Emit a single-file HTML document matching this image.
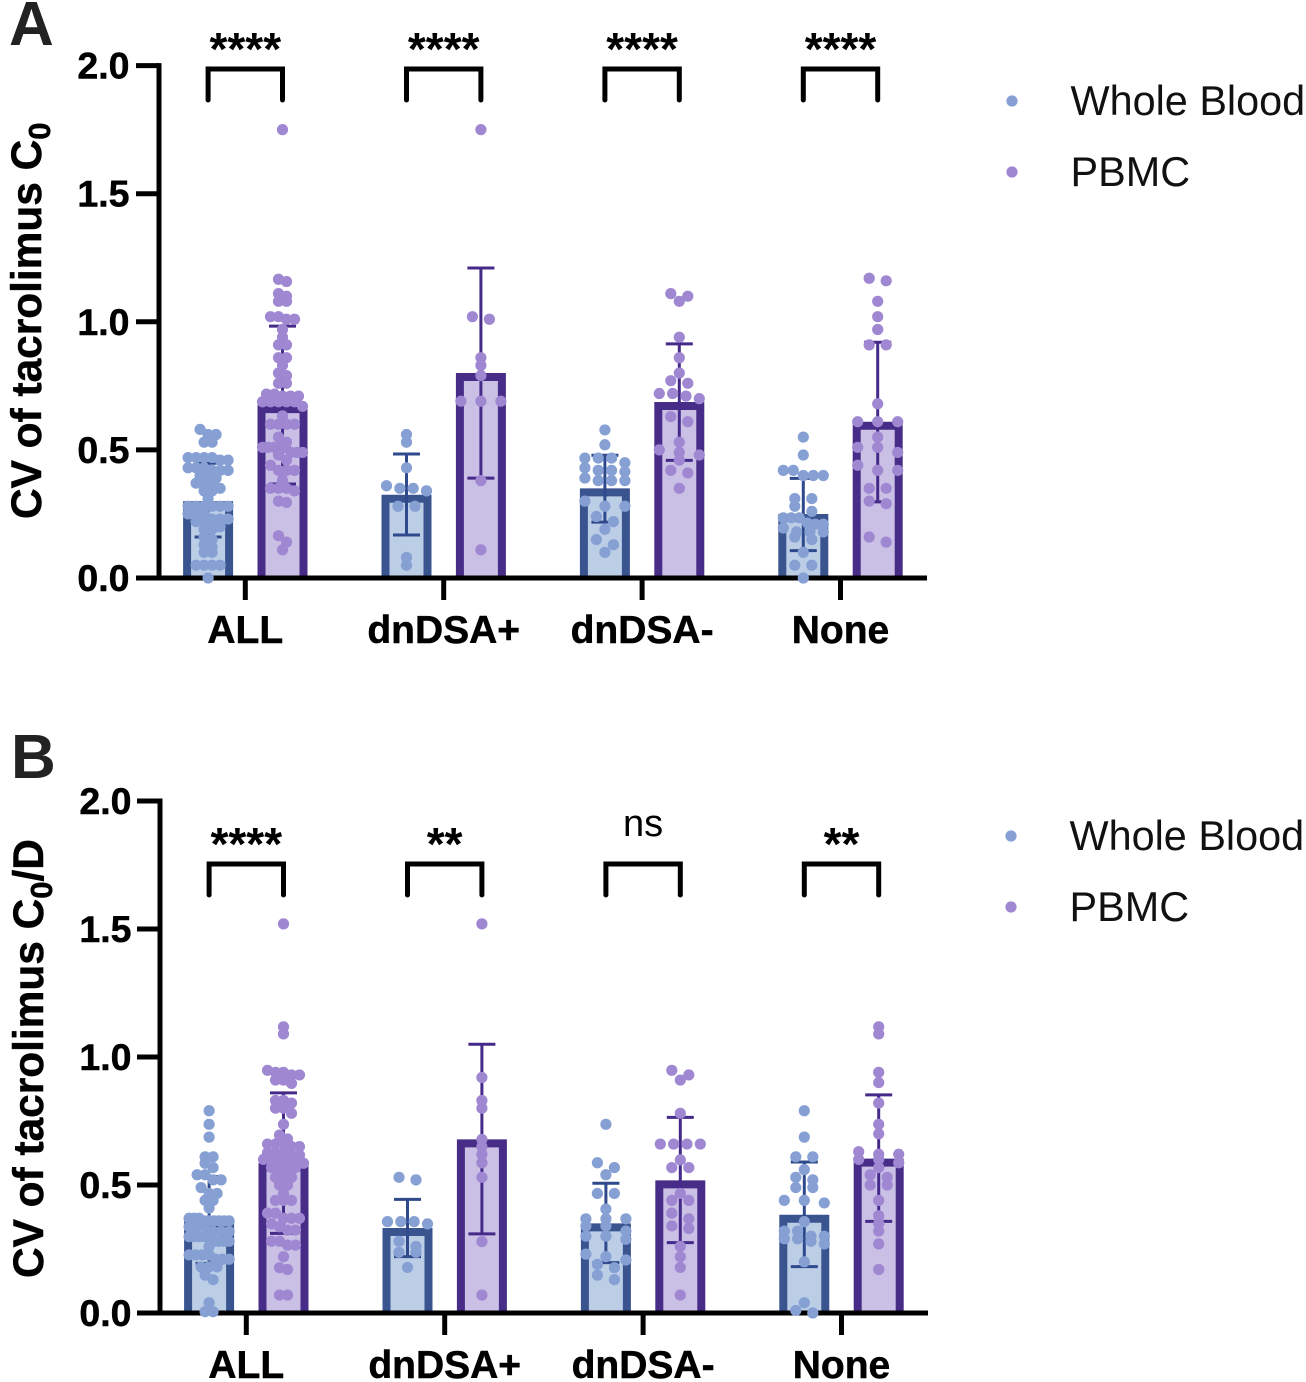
<!DOCTYPE html>
<html lang="en">
<head>
<meta charset="utf-8">
<title>CV of tacrolimus in Whole Blood and PBMC</title>
<style>
html,body{margin:0;padding:0;background:#fff;width:1306px;height:1382px;overflow:hidden}
svg{display:block;font-family:"Liberation Sans",Arial,sans-serif}
</style>
</head>
<body>
<svg id="figure" width="1306" height="1382" viewBox="0 0 1306 1382" xmlns="http://www.w3.org/2000/svg">
<rect width="1306" height="1382" fill="#fff"/>
</svg>
<script>
// ---------- shared labels ----------
const categories = ["ALL", "dnDSA+", "dnDSA-", "None"];
const seriesNames = ["Whole Blood", "PBMC"];
const yTickValues = [0, 0.5, 1, 1.5, 2];
const yTickLabels = ["0.0", "0.5", "1.0", "1.5", "2.0"];

// ---------- panel A ----------
const sigA = ["****", "****", "****", "****"];
const meanWholeBloodA = [0.30, 0.325, 0.35, 0.25];
const meanPbmcA = [0.675, 0.80, 0.687, 0.61];
const errLowWholeBloodA = [0.16, 0.168, 0.218, 0.107];
const errHighWholeBloodA = [0.448, 0.484, 0.479, 0.389];
const errLowPbmcA = [0.367, 0.39, 0.459, 0.297];
const errHighPbmcA = [0.983, 1.21, 0.914, 0.92];
const pointsWholeBloodA = [
  [0.58,0.56,0.56,0.53,0.53,0.47,0.47,0.47,0.47,0.46,0.46,0.43,0.43,0.43,0.42,0.42,0.42,0.40,0.39,0.39,0.37,0.37,0.36,0.35,0.34,0.34,0.31,0.28,0.28,0.28,0.28,0.28,0.28,0.25,0.25,0.25,0.23,0.23,0.23,0.22,0.22,0.20,0.20,0.19,0.19,0.16,0.15,0.13,0.12,0.10,0.10,0.05,0.05,0.05,0.05,0.0],
  [0.56,0.53,0.43,0.36,0.35,0.35,0.34,0.28,0.28,0.08,0.05],
  [0.578,0.52,0.468,0.468,0.468,0.45,0.43,0.42,0.42,0.415,0.39,0.38,0.38,0.38,0.30,0.28,0.28,0.24,0.22,0.19,0.15,0.13,0.10],
  [0.55,0.48,0.42,0.42,0.40,0.40,0.40,0.31,0.31,0.28,0.26,0.235,0.235,0.235,0.215,0.21,0.21,0.195,0.18,0.18,0.18,0.16,0.15,0.10,0.05,0.05,0.0]
];
const pointsPbmcA = [
  [1.75,1.166,1.157,1.11,1.10,1.08,1.08,1.02,1.02,1.01,1.01,0.97,0.94,0.91,0.91,0.86,0.86,0.83,0.80,0.79,0.76,0.76,0.718,0.718,0.71,0.71,0.71,0.688,0.688,0.688,0.688,0.688,0.67,0.633,0.60,0.60,0.60,0.60,0.55,0.53,0.51,0.51,0.51,0.51,0.51,0.49,0.49,0.49,0.48,0.46,0.44,0.42,0.42,0.42,0.41,0.38,0.35,0.35,0.35,0.34,0.30,0.295,0.165,0.14,0.11],
  [1.75,1.02,1.01,0.86,0.83,0.79,0.69,0.69,0.69,0.38,0.11],
  [1.11,1.10,1.08,0.94,0.86,0.80,0.77,0.76,0.72,0.72,0.71,0.70,0.63,0.61,0.53,0.50,0.49,0.48,0.46,0.42,0.41,0.35],
  [1.17,1.16,1.08,1.02,0.97,0.91,0.91,0.68,0.61,0.61,0.61,0.55,0.51,0.51,0.49,0.44,0.42,0.42,0.35,0.35,0.30,0.29,0.16,0.14]
];

// ---------- panel B ----------
const sigB = ["****", "**", "ns", "**"];
const meanWholeBloodB = [0.36, 0.332, 0.35, 0.384];
const meanPbmcB = [0.585, 0.678, 0.518, 0.603];
const errLowWholeBloodB = [0.194, 0.22, 0.197, 0.181];
const errHighWholeBloodB = [0.533, 0.444, 0.507, 0.59];
const errLowPbmcB = [0.311, 0.309, 0.275, 0.358];
const errHighPbmcB = [0.86, 1.05, 0.764, 0.852];
const pointsWholeBloodB = [
  [0.79,0.737,0.687,0.61,0.61,0.585,0.568,0.54,0.54,0.52,0.52,0.49,0.467,0.467,0.44,0.44,0.41,0.37,0.37,0.37,0.36,0.36,0.36,0.36,0.36,0.36,0.337,0.337,0.337,0.318,0.318,0.318,0.298,0.298,0.298,0.298,0.298,0.28,0.28,0.28,0.28,0.26,0.227,0.227,0.227,0.227,0.21,0.21,0.21,0.18,0.18,0.18,0.148,0.13,0.04,0.005,0.005],
  [0.53,0.52,0.357,0.357,0.357,0.348,0.28,0.26,0.237,0.237,0.178],
  [0.737,0.587,0.568,0.54,0.467,0.467,0.406,0.368,0.368,0.368,0.34,0.34,0.32,0.30,0.30,0.288,0.23,0.22,0.207,0.19,0.177,0.148,0.13],
  [0.79,0.687,0.61,0.61,0.56,0.53,0.52,0.49,0.49,0.44,0.44,0.43,0.357,0.32,0.32,0.30,0.30,0.29,0.29,0.28,0.27,0.20,0.04,0.01,0.0]
];
const pointsPbmcB = [
  [1.52,1.118,1.09,0.948,0.94,0.94,0.93,0.93,0.91,0.91,0.897,0.83,0.83,0.82,0.80,0.80,0.78,0.737,0.695,0.68,0.66,0.66,0.66,0.65,0.65,0.626,0.626,0.626,0.617,0.617,0.60,0.60,0.60,0.60,0.585,0.585,0.585,0.568,0.568,0.568,0.568,0.53,0.53,0.53,0.50,0.50,0.467,0.44,0.44,0.44,0.39,0.39,0.37,0.37,0.37,0.348,0.337,0.324,0.324,0.28,0.28,0.265,0.265,0.22,0.177,0.17,0.07,0.07],
  [1.52,0.92,0.83,0.80,0.678,0.65,0.62,0.587,0.53,0.279,0.07],
  [0.948,0.93,0.91,0.78,0.66,0.66,0.66,0.66,0.598,0.568,0.568,0.467,0.44,0.44,0.39,0.368,0.34,0.33,0.26,0.22,0.178,0.07],
  [1.118,1.09,0.94,0.90,0.82,0.737,0.70,0.63,0.62,0.62,0.60,0.60,0.587,0.568,0.54,0.53,0.50,0.50,0.44,0.38,0.35,0.32,0.27,0.17]
];

// ---------- drawing ----------
const svg = document.getElementById('figure');
const NS = 'http://www.w3.org/2000/svg';
function make(tag, attrs, parent) {
  const el = document.createElementNS(NS, tag);
  for (const k in attrs) el.setAttribute(k, attrs[k]);
  parent.appendChild(el);
  return el;
}
function swarmOffsets(vals) {
  const dense = vals.length > 40;
  const order = vals.map((v, i) => i).sort((a, b) => vals[b] - vals[a]);
  const off = new Array(vals.length).fill(0);
  let row = [];
  const flush = () => {
    const n = row.length;
    if (n > 1) {
      const sparseStep = n === 2 ? 17 : 40 / (n - 1);
      const step = dense ? Math.min(8, 40 / (n - 1)) : sparseStep;
      row.forEach((idx, j) => { off[idx] = (j - (n - 1) / 2) * step; });
    }
    row = [];
  };
  order.forEach(idx => {
    if (row.length && vals[row[0]] - vals[idx] > 0.025) flush();
    row.push(idx);
  });
  flush();
  return off;
}
const seriesStyle = [
  {stroke: '#3a5490', fill: '#bccde6', err: '#2f4a8c', dot: '#86a0d4'},
  {stroke: '#482d88', fill: '#cabfe5', err: '#452a8a', dot: '#9f87d2'}
];

function drawPanel(cfg) {
  const g = make('g', {}, svg);
  
  
  const yScale = v => cfg.y0 - v * cfg.pxPerUnit;
  const xScale = i => cfg.x0 + i * 198.4;
  const seriesX = (i, s) => xScale(i) + (s === 0 ? -37.2 : 37.2);

  const letter = make('text', {x: cfg.letterX, y: cfg.letterY, 'font-size': 62, 'font-weight': 700, fill: '#222'}, g);
  letter.textContent = cfg.id;
  
  

  const title = make('text', {transform: 'translate(' + cfg.titleX + ',' + cfg.titleY + ') rotate(-90)', 'font-size': 42.4, 'font-weight': 700, fill: '#000', stroke: '#000', 'stroke-width': 0.5}, g);
  
  
  const t1 = make('tspan', {}, title); t1.textContent = 'CV of tacrolimus C';
  const t2 = make('tspan', {dy: 9, 'font-size': 31}, title); t2.textContent = '0';
  if (cfg.titleSuffix) {
    const t3 = make('tspan', {dy: -9}, title);
    t3.textContent = cfg.titleSuffix;
  }

  // bars, error bars, points
  [0, 1].forEach(s => {
    const st = seriesStyle[s];
    categories.forEach((cat, i) => {
      const cx = seriesX(i, s);
      const top = yScale(cfg.means[s][i]);
      const bar = make('g', {}, g);
      
      
      make('rect', {x: cx - 21, y: top + 4, width: 42, height: cfg.y0 - top - 4, fill: st.fill}, bar);
      make('path', {d: 'M' + (cx - 21) + ' ' + cfg.y0 + 'V' + (top + 4) + 'H' + (cx + 21) + 'V' + cfg.y0, fill: 'none', stroke: st.stroke, 'stroke-width': 8}, bar);

      const err = make('g', {stroke: st.err, 'stroke-width': 3, fill: 'none'}, g);
      
      
      const yl = yScale(cfg.errLow[s][i]), yh = yScale(cfg.errHigh[s][i]);
      make('line', {x1: cx, x2: cx, y1: yl, y2: yh}, err);
      make('line', {x1: cx - 13.5, x2: cx + 13.5, y1: yl, y2: yl}, err);
      make('line', {x1: cx - 13.5, x2: cx + 13.5, y1: yh, y2: yh}, err);
    });
  });

  // axes
  const axes = make('g', {stroke: '#000', 'stroke-width': 5, fill: 'none'}, g);
  
  
  make('line', {x1: cfg.axisX, x2: cfg.axisX, y1: yScale(2) - 2.5, y2: cfg.y0 + 2.5}, axes);
  make('line', {x1: cfg.axisX - 23, x2: cfg.axisEnd, y1: cfg.y0, y2: cfg.y0}, axes);
  yTickValues.forEach((v, i) => {
    if (v > 0) make('line', {x1: cfg.axisX - 23, x2: cfg.axisX, y1: yScale(v), y2: yScale(v)}, axes);
    const lab = make('text', {x: cfg.tickLabelX, y: yScale(v) + 13, 'text-anchor': 'end', 'font-size': 37.5, 'font-weight': 700, fill: '#000', stroke: '#000', 'stroke-width': 0.5}, g);
    lab.textContent = yTickLabels[i];
    
    
  });
  categories.forEach((cat, i) => {
    make('line', {x1: xScale(i), x2: xScale(i), y1: cfg.y0, y2: cfg.y0 + 22}, axes);
    const lab = make('text', {x: xScale(i), y: cfg.y0 + 65, 'text-anchor': 'middle', 'font-size': 39, 'font-weight': 700, fill: '#000', stroke: '#000', 'stroke-width': 0.5}, g);
    lab.textContent = cat;
    
    

    // significance bracket
    const bx1 = seriesX(i, 0), bx2 = seriesX(i, 1);
    const br = make('path', {d: 'M' + bx1 + ' ' + cfg.bracketBottom + 'V' + cfg.bracketTop + 'H' + bx2 + 'V' + cfg.bracketBottom, fill: 'none', stroke: '#000', 'stroke-width': 5, 'stroke-linecap': 'round'}, g);
    
    
    const isNs = cfg.sig[i] === 'ns';
    const sig = make('text', {x: xScale(i), y: isNs ? cfg.bracketTop - 28 : cfg.bracketTop - 4, 'text-anchor': 'middle', 'font-size': isNs ? 38 : 46, 'font-weight': isNs ? 400 : 700, fill: '#000'}, g);
    sig.textContent = cfg.sig[i];
    
    
  });

  // data points sit on top of every other mark
  [0, 1].forEach(s => {
    categories.forEach((cat, i) => {
      const cx = seriesX(i, s);
      const vals = cfg.points[s][i];
      const off = swarmOffsets(vals);
      vals.forEach((v, k) => {
        const dot = make('circle', {cx: cx + off[k], cy: yScale(v), r: 5.6, fill: seriesStyle[s].dot}, g);
        
        
      });
    });
  });

  // legend
  seriesNames.forEach((name, s) => {
    const ly = cfg.legendY + s * 71;
    const entry = make('g', {}, g);
    
    
    make('circle', {cx: cfg.legendX, cy: ly, r: 5.6, fill: seriesStyle[s].dot}, entry);
    const lt = make('text', {x: cfg.legendX + 58.5, y: ly + 14, 'font-size': 41.4, fill: '#111'}, entry);
    lt.textContent = name;
  });
}

drawPanel({
  id: 'A', y0: 578, pxPerUnit: 256.2, x0: 245.3, axisX: 159, axisEnd: 927, tickLabelX: 129.5,
  letterX: 9, letterY: 45, titleX: 41, titleY: 519, titleSuffix: '',
  bracketTop: 69, bracketBottom: 100, legendX: 1012, legendY: 101, sig: sigA,
  means: [meanWholeBloodA, meanPbmcA],
  errLow: [errLowWholeBloodA, errLowPbmcA], errHigh: [errHighWholeBloodA, errHighPbmcA],
  points: [pointsWholeBloodA, pointsPbmcA]
});
drawPanel({
  id: 'B', y0: 1313, pxPerUnit: 256, x0: 246.3, axisX: 160, axisEnd: 928, tickLabelX: 131.5,
  letterX: 11, letterY: 778, titleX: 43, titleY: 1278, titleSuffix: '/D',
  bracketTop: 864, bracketBottom: 895, legendX: 1011, legendY: 836, sig: sigB,
  means: [meanWholeBloodB, meanPbmcB],
  errLow: [errLowWholeBloodB, errLowPbmcB], errHigh: [errHighWholeBloodB, errHighPbmcB],
  points: [pointsWholeBloodB, pointsPbmcB]
});
</script>
</body>
</html>
